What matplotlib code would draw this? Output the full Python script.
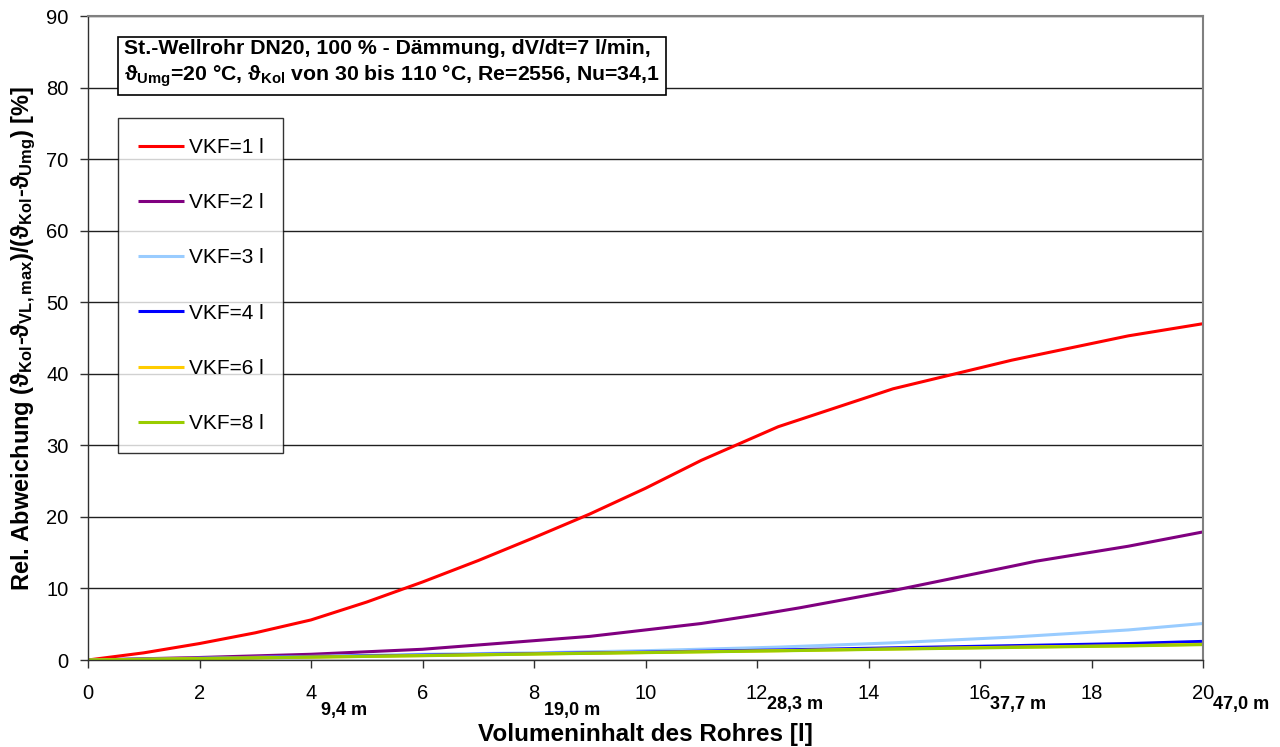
import numpy as np
import matplotlib
matplotlib.use("Agg")
import matplotlib.pyplot as plt
import matplotlib.transforms as mtrans

plt.rcParams.update({"font.family": ["Liberation Sans", "DejaVu Sans"],
                     "mathtext.default": "regular", "font.size": 14})

# Rohrvolumen [l] und relative Abweichung [%] je Kollektorvolumen VKF
x_red = [0, 1, 2, 3, 4, 5, 6, 7, 8, 9, 10, 11, 12.38, 14.44, 16.57, 18.66, 20]
y_red = [0, 1.0, 2.3, 3.8, 5.6, 8.1, 10.9, 13.9, 17.1, 20.4, 24.0, 27.9, 32.6, 37.9, 41.9, 45.3, 47.0]
x_pur = [0, 2, 4, 6, 8, 9, 10, 11, 12, 12.77, 14.44, 16.57, 17.0, 18.66, 20]
y_pur = [0, 0.35, 0.8, 1.5, 2.7, 3.3, 4.2, 5.1, 6.3, 7.3, 9.7, 13.1, 13.8, 15.9, 17.9]
x_small = [0, 2, 4, 6, 8, 10, 12.38, 14.44, 16.57, 18.66, 20]
y_lblue = [0, 0.25, 0.5, 0.8, 1.0, 1.3, 1.8, 2.4, 3.2, 4.2, 5.1]
y_blue = [0, 0.22, 0.45, 0.68, 0.9, 1.1, 1.4, 1.7, 2.0, 2.3, 2.6]
y_yellow = [0, 0.2, 0.4, 0.62, 0.85, 1.05, 1.3, 1.55, 1.8, 2.0, 2.2]
y_green = [0, 0.2, 0.4, 0.6, 0.83, 1.03, 1.28, 1.52, 1.75, 1.97, 2.15]

labels = ["VKF=1 l", "VKF=2 l", "VKF=3 l", "VKF=4 l", "VKF=6 l", "VKF=8 l"]
colors = ["#ff0000", "#800080", "#99ccff", "#0000ff", "#ffcc00", "#99cc00"]

# Rohrlaengen zu den Volumina
len_x = [4, 8, 12, 16, 20]
len_lbl = ["9,4 m", "19,0 m", "28,3 m", "37,7 m", "47,0 m"]
len_dy = [-30, -30, -26, -26, -26]

fig = plt.figure(figsize=(12.8, 7.47), dpi=100)
ax = fig.add_axes([88/1280, 1-660/747, (1203-88)/1280, (660-16)/747])

series = [(x_red, y_red), (x_pur, y_pur), (x_small, y_lblue),
          (x_small, y_blue), (x_small, y_yellow), (x_small, y_green)]
for (xs, ys), c, l in zip(series, colors, labels):
    ax.plot(xs, ys, color=c, lw=2.2, label=l, solid_capstyle="butt")

ax.set_xlim(0, 20); ax.set_ylim(0, 90)
ax.set_xticks(np.arange(0, 21, 2)); ax.set_yticks(np.arange(0, 91, 10))
ax.yaxis.grid(True, color="#202020", lw=1.0)
ax.set_axisbelow(True)
for s in ["top", "right"]:
    ax.spines[s].set_color("#808080"); ax.spines[s].set_linewidth(1.5)
for s in ["left", "bottom"]:
    ax.spines[s].set_color("#303030"); ax.spines[s].set_linewidth(1.0)
ax.tick_params(axis="both", direction="out", length=6, width=1, color="#303030", labelsize=14.5)
ax.tick_params(axis="x", pad=11)
ax.tick_params(axis="y", pad=8)

for xv, t, dy in zip(len_x, len_lbl, len_dy):
    tr = mtrans.offset_copy(ax.get_xaxis_transform(), fig=fig, x=7.5, y=dy, units="points")
    ax.text(xv, 0, t, transform=tr, ha="left", va="top", fontsize=13, fontweight="bold")

ax.set_xlabel("Volumeninhalt des Rohres [l]", fontsize=17.5, fontweight="bold", labelpad=15)
ax.set_ylabel(r"Rel. Abweichung ($\vartheta_{Kol}$-$\vartheta_{VL,max}$)/($\vartheta_{Kol}$-$\vartheta_{Umg}$) [%]",
              fontsize=17, fontweight="bold", labelpad=6)

fig.text(124/1280, 1-39/747,
         "St.-Wellrohr DN20, 100 % - Dämmung, dV/dt=7 l/min,\n"
         r"$\vartheta_{Umg}$=20 °C, $\vartheta_{Kol}$ von 30 bis 110 °C, Re=2556, Nu=34,1",
         ha="left", va="top", fontsize=15.3, fontweight="bold", linespacing=1.3,
         bbox=dict(boxstyle="square,pad=0.3", fc="white", ec="black", lw=1.2))

leg = ax.legend(loc="upper left", bbox_to_anchor=(118/1280, 1-118/747), bbox_transform=fig.transFigure,
                fontsize=15, frameon=True, fancybox=False, handlelength=2.2, handletextpad=0.25,
                labelspacing=1.74, borderpad=0.95, borderaxespad=0)
leg.get_frame().set_edgecolor("black"); leg.get_frame().set_linewidth(1.0)

fig.savefig("out.png", dpi=100, facecolor="white")
